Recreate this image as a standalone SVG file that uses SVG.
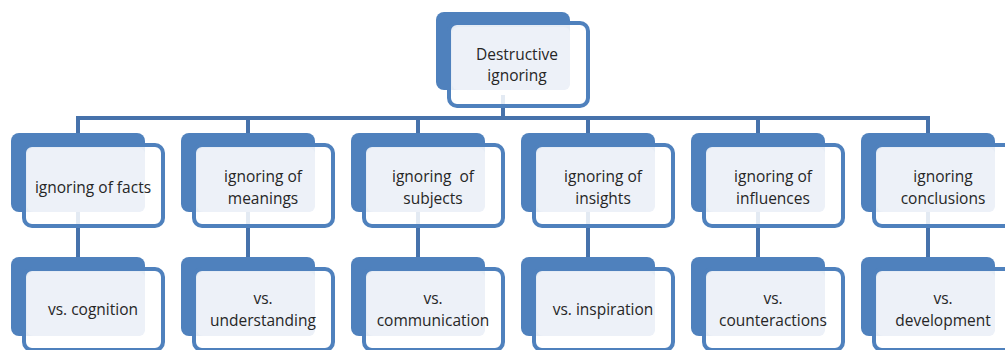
<svg xmlns="http://www.w3.org/2000/svg" width="1005" height="350" viewBox="0 0 1005 350">
  <style>
    .back { fill: #4f81bd; }
    .front { fill: #ffffff; fill-opacity: 0.85; stroke: #4f81bd; stroke-width: 4; }
    .inner { fill: #edf1f8; }
    .lbl { font-family: "Open Sans", "Liberation Sans", Arial, sans-serif; font-size: 15.5px; fill: #262626; text-anchor: middle; }
    .conn { stroke: #4672ab; stroke-width: 4; fill: none; }
  </style>
  <defs>
    <!-- one stacked card: blue back plate, outlined front plate, pale label panel -->
    <g id="card">
      <rect class="back" x="0" y="0" width="134" height="79" rx="8"/>
      <rect class="front" x="13" y="12" width="139" height="81" rx="8"/>
      <rect class="inner" x="16" y="15" width="118" height="64" rx="6"/>
    </g>
  </defs>

  <rect width="1005" height="350" fill="#ffffff"/>

  <!-- connectors -->
  <g id="connectors">
    <path class="conn" d="M503 95 V118"/>
    <path class="conn" d="M76 118 H930"/>
    <path class="conn" d="M78 118 V135 M248 118 V135 M418 118 V135 M588 118 V135 M758 118 V135 M928 118 V135"/>
    <path class="conn" d="M78 210 V258 M248 210 V258 M418 210 V258 M588 210 V258 M758 210 V258 M928 210 V258"/>
  </g>

  <!-- root -->
  <g id="root">
    <rect class="back" x="436" y="12" width="134" height="78" rx="8"/>
    <rect class="front" x="449" y="23" width="139" height="83" rx="8"/>
    <rect class="inner" x="452" y="27" width="118" height="63" rx="6"/>
    <text class="lbl" x="517" y="59.5">Destructive<tspan x="517" dy="21.5">ignoring</tspan></text>
  </g>

  <!-- first row -->
  <g id="facts">
    <use href="#card" x="11" y="133"/>
    <text class="lbl" x="93" y="193">ignoring of facts</text>
  </g>
  <g id="meanings">
    <use href="#card" x="181" y="133"/>
    <text class="lbl" x="263" y="182">ignoring of<tspan x="263" dy="21.5">meanings</tspan></text>
  </g>
  <g id="subjects">
    <use href="#card" x="351" y="133"/>
    <text class="lbl" x="433" y="182" xml:space="preserve">ignoring  of<tspan x="433" dy="21.5">subjects</tspan></text>
  </g>
  <g id="insights">
    <use href="#card" x="521" y="133"/>
    <text class="lbl" x="603" y="182">ignoring of<tspan x="603" dy="21.5">insights</tspan></text>
  </g>
  <g id="influences">
    <use href="#card" x="691" y="133"/>
    <text class="lbl" x="773" y="182">ignoring of<tspan x="773" dy="21.5">influences</tspan></text>
  </g>
  <g id="conclusions">
    <use href="#card" x="861" y="133"/>
    <text class="lbl" x="943" y="182">ignoring<tspan x="943" dy="21.5">conclusions</tspan></text>
  </g>

  <!-- second row -->
  <g id="cognition">
    <use href="#card" x="11" y="257"/>
    <text class="lbl" x="93" y="315">vs. cognition</text>
  </g>
  <g id="understanding">
    <use href="#card" x="181" y="257"/>
    <text class="lbl" x="263" y="304">vs.<tspan x="263" dy="21.5">understanding</tspan></text>
  </g>
  <g id="communication">
    <use href="#card" x="351" y="257"/>
    <text class="lbl" x="433" y="304">vs.<tspan x="433" dy="21.5">communication</tspan></text>
  </g>
  <g id="inspiration">
    <use href="#card" x="521" y="257"/>
    <text class="lbl" x="603" y="315">vs. inspiration</text>
  </g>
  <g id="counteractions">
    <use href="#card" x="691" y="257"/>
    <text class="lbl" x="773" y="304">vs.<tspan x="773" dy="21.5">counteractions</tspan></text>
  </g>
  <g id="development">
    <use href="#card" x="861" y="257"/>
    <text class="lbl" x="943" y="304">vs.<tspan x="943" dy="21.5">development</tspan></text>
  </g>
</svg>
